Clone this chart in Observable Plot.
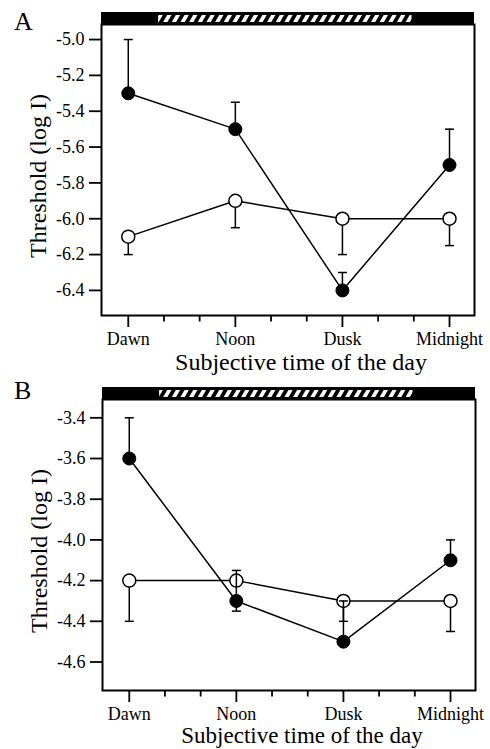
<!DOCTYPE html>
<html><head><meta charset="utf-8">
<script src="https://cdn.jsdelivr.net/npm/d3@7"></script>
<script src="https://cdn.jsdelivr.net/npm/@observablehq/plot@0.6"></script>
<style>
body{margin:0;background:#fff;width:490px;height:749px;overflow:hidden;position:relative;font-family:"Liberation Serif","Times New Roman",serif;}
.abs{position:absolute;left:0;}
.plabel{position:absolute;left:14px;font-size:26px;line-height:26px;color:#000;z-index:10;font-family:"Liberation Serif","Times New Roman",serif;}
svg text{font-family:"Liberation Serif","Times New Roman",serif !important;fill:#000;}
g[aria-label="x-axis"] text, g[aria-label="y-axis"] text,
g[aria-label="x-axis tick label"] text, g[aria-label="y-axis tick label"] text,
g[aria-label="x-axis tick label"], g[aria-label="y-axis tick label"] {font-size:18px !important;}
g[aria-label="x-axis"] line, g[aria-label="y-axis"] line,
g[aria-label="x-axis tick"] path, g[aria-label="y-axis tick"] path {stroke-width:1.8px;}
</style></head><body>
<div id="stripA" class="abs" style="top:12px"></div>
<div id="plotA" class="abs" style="top:20px"></div>
<div id="stripB" class="abs" style="top:387px"></div>
<div id="plotB" class="abs" style="top:395px"></div>
<div class="plabel" style="top:9px">A</div>
<div class="plabel" style="top:378px">B</div>
<script>
// ---- data ----
const times = ["Dawn", "Noon", "Dusk", "Midnight"];
const hours = [6, 12, 18, 24];
const minorHours = [8, 10, 14, 16, 20, 22];
const xDomain = [4.5, 25.4];
const lightPeriod = [7.7, 21.9];
const xTitle = ["Subjective time of the day"];
const yTitle = ["Threshold (log I)"];

const ticksA = [-5.0, -5.2, -5.4, -5.6, -5.8, -6.0, -6.2, -6.4];
const domainA = [-6.54, -4.916];
const filledA = [-5.3, -5.5, -6.4, -5.7];
const filledALo = [-5.3, -5.5, -6.4, -5.7];
const filledAHi = [-5.0, -5.35, -6.3, -5.5];
const openA = [-6.1, -5.9, -6.0, -6.0];
const openALo = [-6.2, -6.05, -6.2, -6.15];
const openAHi = [-6.1, -5.9, -6.0, -6.0];

const ticksB = [-3.4, -3.6, -3.8, -4.0, -4.2, -4.4, -4.6];
const domainB = [-4.74, -3.31];
const filledB = [-3.6, -4.3, -4.5, -4.1];
const filledBLo = [-3.6, -4.35, -4.5, -4.1];
const filledBHi = [-3.4, -4.15, -4.3, -4.0];
const openB = [-4.2, -4.2, -4.3, -4.3];
const openBLo = [-4.4, -4.2, -4.4, -4.45];
const openBHi = [-4.2, -4.2, -4.3, -4.3];

// ---- helpers ----
const capSymbol = {draw(ctx) { ctx.moveTo(-4.5, 0); ctx.lineTo(4.5, 0); }};
const minorTickSymbol = {draw(ctx) { ctx.moveTo(0, 0); ctx.lineTo(0, 6); }};

function rows(vals, lo, hi) {
  return hours.map((h, i) => ({x: h, v: vals[i], lo: lo[i], hi: hi[i]}));
}
function caps(vals, lo, hi) {
  const out = [];
  hours.forEach((h, i) => {
    if (lo[i] !== vals[i]) out.push({x: h, y: lo[i]});
    if (hi[i] !== vals[i]) out.push({x: h, y: hi[i]});
  });
  return out;
}

function strip(id, mLeft, mRight) {
  const periods = [
    {start: xDomain[0], end: xDomain[1], kind: "dark"},
    {start: lightPeriod[0], end: lightPeriod[1], kind: "light"}
  ];
  const svg = Plot.plot({
    width: 490, height: 12, marginTop: 0, marginBottom: 0, marginLeft: mLeft, marginRight: mRight,
    x: {domain: xDomain, axis: null},
    style: {background: "transparent"},
    marks: [
      Plot.rect(periods.filter(d => d.kind === "dark"), {x1: "start", x2: "end", fill: "black"}),
      Plot.rect(periods.filter(d => d.kind === "light"), {x1: "start", x2: "end", fill: `url(#hatch${id})`, insetTop: 3, insetBottom: 2})
    ]
  });
  d3.select(svg).insert("defs", ":first-child").html(
    `<pattern id="hatch${id}" patternUnits="userSpaceOnUse" width="7.5" height="7.5" patternTransform="rotate(30)">` +
    `<rect width="7.5" height="7.5" fill="white"/><rect width="3.8" height="7.5" fill="black"/></pattern>`);
  document.getElementById("strip" + id).appendChild(svg);
}

function panel(id, mLeft, mRight, domain, ticks, filled, fLo, fHi, open, oLo, oHi, titleDy, titleSize) {
  const F = rows(filled, fLo, fHi), O = rows(open, oLo, oHi);
  const svg = Plot.plot({
    width: 490, height: 355, marginTop: 4, marginBottom: 60, marginLeft: mLeft, marginRight: mRight,
    style: {fontFamily: "'Liberation Serif', 'Times New Roman', serif", fontSize: "18px", color: "black", background: "transparent", overflow: "visible"},
    x: {domain: xDomain, ticks: hours, tickFormat: d => times[hours.indexOf(d)], tickSize: 12, tickPadding: 5, label: null},
    y: {domain: domain, ticks: ticks, tickFormat: d => d.toFixed(1), tickSize: 12, tickPadding: 5, label: null},
    marks: [
      Plot.frame({stroke: "black", strokeWidth: 2}),
      Plot.dot(minorHours, {x: d => d, frameAnchor: "bottom", symbol: minorTickSymbol, r: 2, stroke: "black", strokeWidth: 1.8, fill: "none"}),
      Plot.line(O, {x: "x", y: "v", stroke: "black", strokeWidth: 1.5}),
      Plot.line(F, {x: "x", y: "v", stroke: "black", strokeWidth: 1.5}),
      Plot.ruleX(O, {x: "x", y1: "lo", y2: "hi", stroke: "black", strokeWidth: 1.5}),
      Plot.dot(caps(open, oLo, oHi), {x: "x", y: "y", symbol: capSymbol, r: 3, stroke: "black", strokeWidth: 1.5, fill: "none"}),
      Plot.dot(O, {x: "x", y: "v", r: 6.5, fill: "white", stroke: "black", strokeWidth: 1.5}),
      Plot.ruleX(F, {x: "x", y1: "lo", y2: "hi", stroke: "black", strokeWidth: 1.5}),
      Plot.dot(caps(filled, fLo, fHi), {x: "x", y: "y", symbol: capSymbol, r: 3, stroke: "black", strokeWidth: 1.5, fill: "none"}),
      Plot.dot(F, {x: "x", y: "v", r: 6.5, fill: "black", stroke: "black", strokeWidth: 1}),
      Plot.text(xTitle, {frameAnchor: "bottom", dx: 13, dy: titleDy, lineAnchor: "middle", textAnchor: "middle", fontSize: titleSize, fill: "black"}),
      Plot.text(yTitle, {frameAnchor: "left", dx: -63, dy: 6, rotate: -90, lineAnchor: "middle", textAnchor: "middle", fontSize: 24, fill: "black"})
    ]
  });
  document.getElementById("plot" + id).appendChild(svg);
}

strip("A", 101, 16);
panel("A", 101, 16, domainA, ticksA, filledA, filledALo, filledAHi, openA, openALo, openAHi, 47, 24);
strip("B", 102, 15);
panel("B", 102, 15, domainB, ticksB, filledB, filledBLo, filledBHi, openB, openBLo, openBHi, 45.5, 23);
</script>
</body></html>
